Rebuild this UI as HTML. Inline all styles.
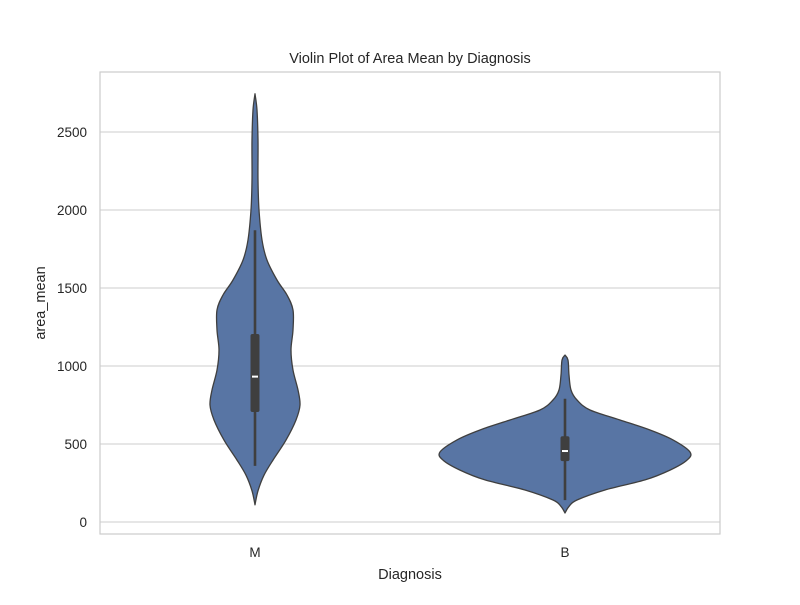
<!DOCTYPE html>
<html><head><meta charset="utf-8"><style>
body{margin:0;background:#fff;font-family:"Liberation Sans","DejaVu Sans",sans-serif}
</style></head><body>
<svg width="800" height="600" viewBox="0 0 800 600" id="chart">
<rect width="800" height="600" fill="#fff"/>
<text x="410" y="63" font-size="14.5" text-anchor="middle" fill="#262626">Violin Plot of Area Mean by Diagnosis</text>
<text x="410" y="579" font-size="14.5" text-anchor="middle" fill="#262626">Diagnosis</text>
<text transform="translate(45,303) rotate(-90)" font-size="14.5" text-anchor="middle" fill="#262626">area_mean</text>
<g id="grid"></g><g id="violins"></g><g id="ticks"></g>
<rect x="100" y="72" width="620" height="462" fill="none" stroke="#cccccc" stroke-width="1.2"/>
</svg>
<script>
const categories=["M","B"];
const yTicks=[0,500,1000,1500,2000,2500];
const mValues=[110,200,300,397,525,654,750,846,974,1103,1231,1359,1455,1551,1679,1808,2000,2192,2449,2641,2745];
const mDensity=[0,3,9,18,31,41,45,43,38,36,38,38,32,22,12,7,4,3,3,2,0];
const bValues=[58,100,141,205,270,333,397,449,526,590,654,718,782,846,942,1038,1070];
const bDensity=[0,4,12,40,80,105,122,125,108,85,55,25,12,6,4,3,0];
const boxStats=[[360,705,932,1205,1870],[140,390,455,550,790]];
const NS="http://www.w3.org/2000/svg";
const y=v=>522-v*0.156;
const x=i=>255+i*310;
function mk(t,a,p){const e=document.createElementNS(NS,t);for(const k in a)e.setAttribute(k,a[k]);p.appendChild(e);return e;}
function smooth(pts){
 let d='M'+pts[0][0].toFixed(1)+','+pts[0][1].toFixed(1);
 for(let i=0;i<pts.length-1;i++){
  const p0=pts[Math.max(0,i-1)],p1=pts[i],p2=pts[i+1],p3=pts[Math.min(pts.length-1,i+2)];
  const c1=[p1[0]+(p2[0]-p0[0])/6,p1[1]+(p2[1]-p0[1])/6];
  const c2=[p2[0]-(p3[0]-p1[0])/6,p2[1]-(p3[1]-p1[1])/6];
  d+='C'+c1[0].toFixed(1)+','+c1[1].toFixed(1)+' '+c2[0].toFixed(1)+','+c2[1].toFixed(1)+' '+p2[0].toFixed(1)+','+p2[1].toFixed(1);
 }
 return d;
}
const grid=document.getElementById('grid'),tk=document.getElementById('ticks'),vg=document.getElementById('violins');
yTicks.forEach(v=>{
 const l=mk('line',{x1:100,x2:720,y1:y(v),y2:y(v),stroke:'#cccccc','stroke-width':1.1},grid);
 
 
 const t=mk('text',{x:87,y:y(v)+5,'font-size':13.5,'text-anchor':'end',fill:'#262626'},tk);
 t.textContent=v;
 
 
});
categories.forEach((c,i)=>{
 const t=mk('text',{x:x(i),y:557,'font-size':13.5,'text-anchor':'middle',fill:'#262626'},tk);
 t.textContent=c;
 
 
});
[[mValues,mDensity],[bValues,bDensity]].forEach((d,i)=>{
 const [vals,den]=d;const cx=x(i);
 const right=vals.map((v,k)=>[cx+den[k],y(v)]);
 const left=vals.map((v,k)=>[cx-den[k],y(v)]).reverse();
 const p=smooth(right)+smooth(left).replace(/^M[^C]*/,'L'+left[0][0]+','+left[0][1])+'Z';
 const path=mk('path',{d:p,fill:'#5875a4',stroke:'#3f3f3f','stroke-width':1.3,'stroke-linejoin':'round'},vg);
 
 
 const s=boxStats[i];
 const w=mk('line',{x1:cx,x2:cx,y1:y(s[0]),y2:y(s[4]),stroke:'#3f3f3f','stroke-width':2.6},vg);
 
 
 const b=mk('rect',{x:cx-4.5,y:y(s[3]),width:9,height:y(s[1])-y(s[3]),fill:'#3f3f3f',rx:2},vg);
 
 
 const m=mk('line',{x1:cx-3,x2:cx+3,y1:y(s[2]),y2:y(s[2]),stroke:'#fff','stroke-width':2},vg);
 
 
});
</script>
</body></html>
